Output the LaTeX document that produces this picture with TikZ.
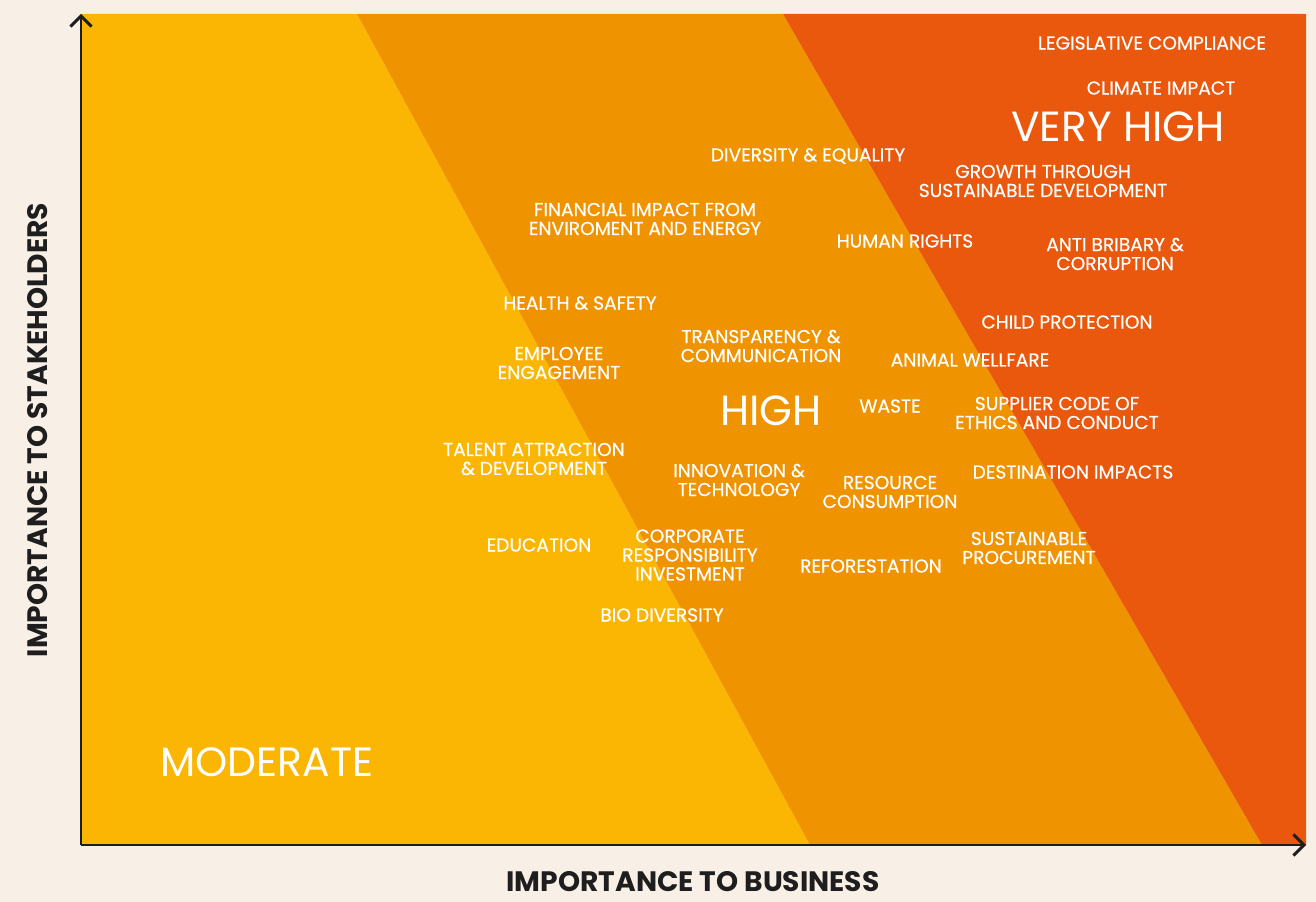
\documentclass[tikz,border=0pt]{standalone}
\usepackage{fontspec}
\setmainfont{Poppins}
\newfontfamily\lblfont[FakeBold=0.5]{Poppins}
\usepackage{tikz}
\usetikzlibrary{arrows.meta, positioning}
\usepackage{xcolor}
\definecolor{cream}{HTML}{F8F0E7}
\definecolor{moderate}{HTML}{FBB604}
\definecolor{high}{HTML}{F09300}
\definecolor{veryhigh}{HTML}{E9580C}
\definecolor{axis}{HTML}{1E1E1E}

\begin{document}
\begin{tikzpicture}[x=0.02cm, y=-0.02cm,
    lbl/.style={text=white, align=center, inner sep=0pt, font=\lblfont\fontsize{10.6}{10.8}\selectfont},
    band/.style={text=white, inner sep=0pt, font=\fontsize{24}{26}\selectfont},
    axtitle/.style={text=axis, inner sep=0pt, font=\bfseries\fontsize{16}{17}\selectfont},
    axline/.style={draw=axis, line width=1.7pt, -{Straight Barb[length=6pt, width=12pt, line width=1.7pt]}}]
    % Hintergrund und Zonen
    \fill[cream] (0,0) rectangle (1316,902);
    \useasboundingbox (0,0) rectangle (1316,902);
    \fill[moderate] (81,14) -- (357,14) -- (810,845) -- (81,845) -- cycle;
    \fill[high] (357,14) -- (783,14) -- (1262,845) -- (810,845) -- cycle;
    \fill[veryhigh] (783,14) -- (1306,14) -- (1306,845) -- (1262,845) -- cycle;

    % Achsen
    \coordinate (origin) at (81,845);
    \coordinate (yend) at (81,14);
    \coordinate (xend) at (1306,845);
    \draw[axline] (origin) -- (yend);
    \draw[axline] (origin) -- (xend);
    \node[axtitle, text depth=0pt, anchor=south] (xtitle) at (693,892) {IMPORTANCE TO BUSINESS};
    \node[axtitle, rotate=90] (ytitle) at (37.5,430) {IMPORTANCE TO STAKEHOLDERS};

    % Zonen-Titel
    \node[band] (veryhightxt) at (1118,127) {VERY HIGH};
    \node[band] (hightxt) at (771,411) {HIGH};
    \node[band, font=\fontsize{23.3}{25}\selectfont] (moderatetxt) at (267,762) {MODERATE};

    % Themen
    \node[lbl] (legislative) at (1152,43) {LEGISLATIVE COMPLIANCE};
    \node[lbl] (climate) at (1161,88) {CLIMATE IMPACT};
    \node[lbl] (diversity) at (808,156) {DIVERSITY \& EQUALITY};
    \node[lbl] (growth) at (1043,181) {GROWTH THROUGH\\SUSTAINABLE DEVELOPMENT};
    \node[lbl] (financial) at (645,219) {FINANCIAL IMPACT FROM\\ENVIROMENT AND ENERGY};
    \node[lbl] (human) at (905,241) {HUMAN RIGHTS};
    \node[lbl] (antibribary) at (1115,254) {ANTI BRIBARY \&\\CORRUPTION};
    \node[lbl] (health) at (580,303) {HEALTH \& SAFETY};
    \node[lbl] (child) at (1067,322) {CHILD PROTECTION};
    \node[lbl] (transparency) at (761,346) {TRANSPARENCY \&\\COMMUNICATION};
    \node[lbl] (employee) at (559,363) {EMPLOYEE\\ENGAGEMENT};
    \node[lbl] (animal) at (970,360) {ANIMAL WELLFARE};
    \node[lbl] (waste) at (890,406) {WASTE};
    \node[lbl] (supplier) at (1057,413) {SUPPLIER CODE OF\\ETHICS AND CONDUCT};
    \node[lbl] (talent) at (534,459) {TALENT ATTRACTION\\\& DEVELOPMENT};
    \node[lbl] (innovation) at (739,480) {INNOVATION \&\\TECHNOLOGY};
    \node[lbl] (resource) at (890,492) {RESOURCE\\CONSUMPTION};
    \node[lbl] (destination) at (1073,472) {DESTINATION IMPACTS};
    \node[lbl] (education) at (539,545) {EDUCATION};
    \node[lbl] (corporate) at (690,555) {CORPORATE\\RESPONSIBILITY\\INVESTMENT};
    \node[lbl] (reforestation) at (871,566) {REFORESTATION};
    \node[lbl] (procurement) at (1029,548) {SUSTAINABLE\\PROCUREMENT};
    \node[lbl] (biodiversity) at (662,615) {BIO DIVERSITY};
\end{tikzpicture}
\end{document}
